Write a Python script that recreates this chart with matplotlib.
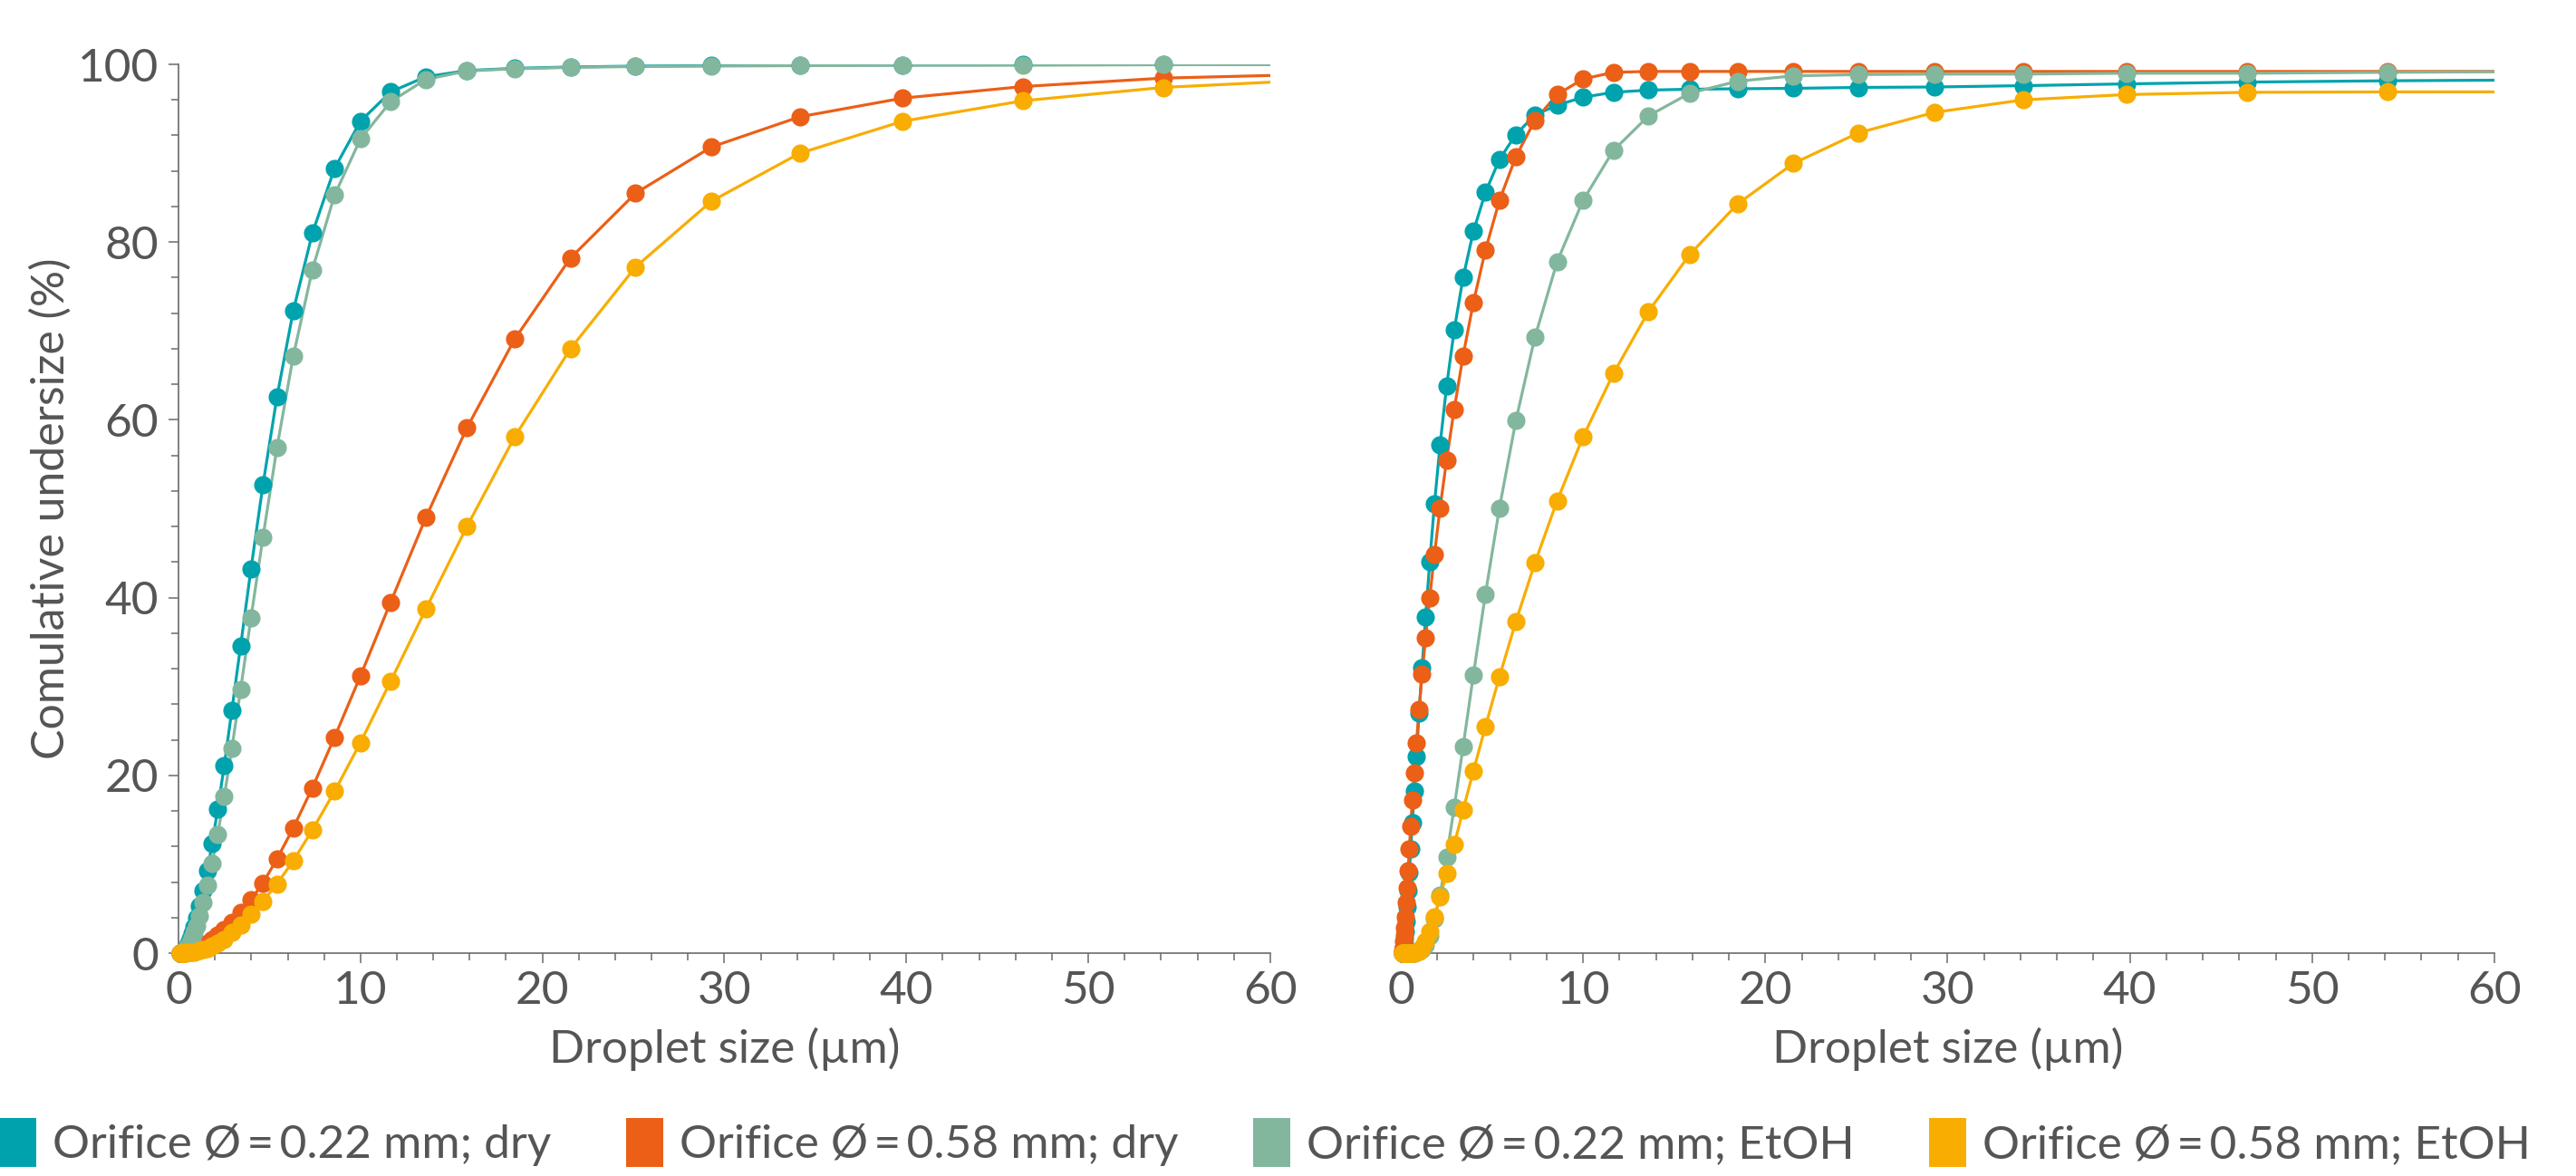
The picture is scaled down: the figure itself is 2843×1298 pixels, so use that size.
import matplotlib
matplotlib.use("Agg")
from matplotlib import pyplot as plt
from matplotlib.patches import Patch
from matplotlib.ticker import MultipleLocator

plt.rcParams['font.family'] = ['Lato', 'DejaVu Sans']

# droplet size classes (um), same for every series
size = [0.100, 0.117, 0.136, 0.158, 0.185, 0.215, 0.251, 0.293, 0.341, 0.398,
        0.464, 0.541, 0.631, 0.736, 0.858, 1.000, 1.166, 1.359, 1.585, 1.848,
        2.154, 2.512, 2.929, 3.415, 3.981, 4.642, 5.412, 6.310, 7.356, 8.577,
        10.00, 11.66, 13.59, 15.85, 18.48, 21.54, 25.12, 29.29, 34.15, 39.81,
        46.42, 54.12, 63.10]

# left panel
left_022_dry = [0, 0.01, 0.02, 0.03, 0.05, 0.08, 0.12, 0.2, 0.33, 0.5,
                0.75, 1.1, 1.6, 2.2, 3.0, 4.0, 5.3, 7.0, 9.3, 12.3,
                16.2, 21.1, 27.3, 34.6, 43.2, 52.7, 62.6, 72.3, 81.0, 88.3,
                93.6, 96.9, 98.6, 99.3, 99.55, 99.7, 99.8, 99.85, 99.9, 99.92,
                99.95, 99.97, 100]
left_058_dry = [0, 0.005, 0.01, 0.015, 0.02, 0.03, 0.04, 0.05, 0.07, 0.09,
                0.12, 0.16, 0.21, 0.28, 0.38, 0.5, 0.65, 0.85, 1.1, 1.55,
                2.0, 2.65, 3.5, 4.6, 6.0, 7.9, 10.6, 14.1, 18.6, 24.3,
                31.2, 39.5, 49.0, 59.1, 69.1, 78.2, 85.5, 90.7, 94.1, 96.2,
                97.5, 98.45, 98.9]
left_022_etoh = [0, 0.01, 0.015, 0.025, 0.04, 0.06, 0.1, 0.16, 0.26, 0.4,
                 0.6, 0.85, 1.2, 1.7, 2.3, 3.1, 4.2, 5.7, 7.6, 10.1,
                 13.4, 17.6, 23.0, 29.7, 37.7, 46.8, 56.9, 67.2, 76.9, 85.3,
                 91.6, 95.8, 98.3, 99.25, 99.5, 99.65, 99.75, 99.8, 99.85, 99.9,
                 99.9, 99.95, 100]
left_058_etoh = [0, 0.003, 0.006, 0.01, 0.015, 0.02, 0.025, 0.03, 0.04, 0.05,
                 0.06, 0.07, 0.08, 0.1, 0.15, 0.22, 0.3, 0.4, 0.55, 0.8,
                 1.1, 1.56, 2.3, 3.2, 4.4, 5.85, 7.8, 10.4, 13.85, 18.2,
                 23.7, 30.6, 38.7, 48.0, 58.1, 68.0, 77.2, 84.6, 90.0, 93.6,
                 95.9, 97.4, 98.3]

# right panel
right_022_dry = [0, 0.1, 0.3, 0.6, 1.0, 1.6, 2.5, 3.6, 5.2, 7.0,
                 9.1, 11.7, 14.7, 18.2, 22.1, 27.0, 32.1, 37.8, 44.0, 50.6,
                 57.2, 63.8, 70.1, 76.0, 81.2, 85.6, 89.3, 92.1, 94.3, 95.4,
                 96.3, 96.85, 97.1, 97.2, 97.25, 97.3, 97.4, 97.45, 97.6, 97.8,
                 98.0, 98.15, 98.25]
right_058_dry = [0, 0.3, 0.7, 1.3, 2.0, 2.9, 4.1, 5.7, 7.3, 9.3,
                 11.7, 14.3, 17.2, 20.3, 23.7, 27.4, 31.4, 35.5, 40.0, 44.9,
                 50.1, 55.5, 61.2, 67.2, 73.2, 79.1, 84.7, 89.6, 93.7, 96.6,
                 98.35, 99.1, 99.2, 99.2, 99.2, 99.2, 99.2, 99.2, 99.2, 99.2,
                 99.2, 99.2, 99.2]
right_022_etoh = [0, 0, 0, 0, 0, 0, 0, 0, 0, 0,
                  0, 0, 0, 0, 0.1, 0.2, 0.4, 0.9, 1.9, 3.9,
                  6.55, 10.85, 16.4, 23.2, 31.3, 40.4, 50.1, 59.9, 69.3, 77.8,
                  84.7, 90.3, 94.2, 96.75, 98.1, 98.7, 98.85, 98.9, 98.9, 99.0,
                  99.0, 99.1, 99.2]
right_058_etoh = [0, 0, 0, 0, 0, 0, 0, 0, 0, 0,
                  0, 0, 0, 0, 0.1, 0.25, 0.6, 1.3, 2.5, 4.1,
                  6.3, 9.0, 12.2, 16.1, 20.5, 25.5, 31.1, 37.3, 43.9, 50.9,
                  58.1, 65.2, 72.2, 78.6, 84.3, 88.85, 92.3, 94.6, 96.0, 96.6,
                  96.85, 96.9, 96.9]

labels = ["Orifice Ø\u2009=\u20090.22 mm; dry", "Orifice Ø\u2009=\u20090.58 mm; dry",
          "Orifice Ø\u2009=\u20090.22 mm; EtOH", "Orifice Ø\u2009=\u20090.58 mm; EtOH"]
colors = ["#00A3AD", "#EB5F17", "#83B79D", "#F8AD00"]
text_col = "#555555"
axis_col = "#6b6b6b"

left_series = [left_022_dry, left_058_dry, left_022_etoh, left_058_etoh]
right_series = [right_022_dry, right_058_dry, right_022_etoh, right_058_etoh]

fig = plt.figure(figsize=(28.43, 12.98), dpi=100)
ax1 = fig.add_axes([0.0693, 0.1895, 0.4238, 0.7558])
ax2 = fig.add_axes([0.5438, 0.1895, 0.4245, 0.7558])

in_range = [i for i, s in enumerate(size) if s <= 60]

for ax, series in [(ax1, left_series), (ax2, right_series)]:
    for vals, c in zip(series, colors):
        ax.plot(size, vals, color=c, lw=2.3, zorder=2)
        ax.plot([size[i] for i in in_range], [vals[i] for i in in_range],
                ls="none", marker="o", ms=14.5, color=c, mec="none",
                clip_on=False, zorder=3)
    ax.set_xlim(0, 60)
    ax.set_ylim(0, 100)
    ax.xaxis.set_major_locator(MultipleLocator(10))
    ax.xaxis.set_minor_locator(MultipleLocator(2))
    ax.spines["top"].set_visible(False)
    ax.spines["right"].set_visible(False)
    ax.spines["bottom"].set_color(axis_col)
    ax.spines["bottom"].set_linewidth(1.2)
    ax.tick_params(axis="x", which="major", length=8, width=1.1, color=axis_col,
                   labelsize=37, labelcolor=text_col, pad=6)
    ax.tick_params(axis="x", which="minor", length=6, width=1.1, color=axis_col)
    ax.set_xlabel("Droplet size (µm)", fontsize=37, color=text_col, labelpad=12)

ax1.yaxis.set_major_locator(MultipleLocator(20))
ax1.yaxis.set_minor_locator(MultipleLocator(4))
ax1.spines["left"].set_color(axis_col)
ax1.spines["left"].set_linewidth(1.2)
ax1.tick_params(axis="y", which="major", length=8, width=1.1, color=axis_col,
                labelsize=37, labelcolor=text_col, pad=8)
ax1.tick_params(axis="y", which="minor", length=6, width=1.1, color=axis_col)
ax1.set_ylabel("Comulative undersize (%)", fontsize=36, color=text_col, labelpad=4)

ax2.spines["left"].set_visible(False)
ax2.tick_params(axis="y", which="both", left=False, labelleft=False)

handles = [Patch(facecolor=c, edgecolor="none") for c in colors]
fig.legend(handles, labels, loc="lower center", bbox_to_anchor=(0.491, -0.028),
           ncol=4, frameon=False, fontsize=37, labelcolor=text_col,
           handlelength=0.8, handleheight=1.25, handletextpad=0.35,
           columnspacing=1.6)

fig.savefig("out.png", dpi=100)
